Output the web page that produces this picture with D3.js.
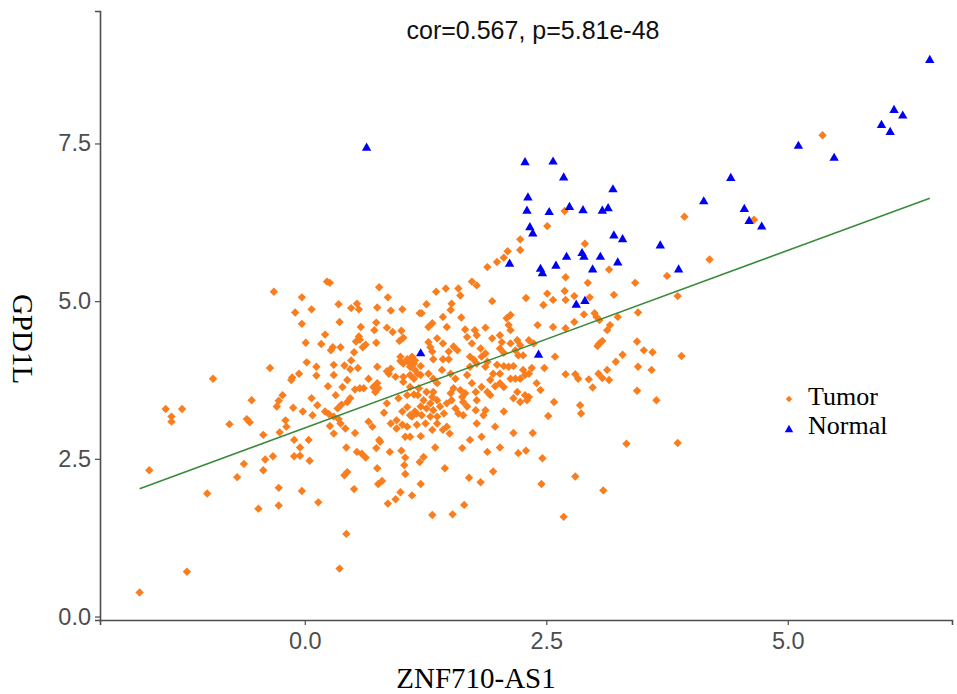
<!DOCTYPE html>
<html>
<head>
<meta charset="utf-8">
<script src="https://cdn.jsdelivr.net/npm/d3@7"></script>
<style>
  body { margin: 0; background: #fff; }
  .tick text { font-family: "Liberation Sans", Arial, sans-serif; font-size: 23.5px; fill: #4d4d4d; }
  .axis-title { font-family: "Liberation Serif", "Times New Roman", serif; font-size: 29px; fill: #000; }
  .legend-label { font-family: "Liberation Serif", "Times New Roman", serif; font-size: 26px; fill: #000; }
  .plot-title { font-family: "Liberation Sans", Arial, sans-serif; font-size: 25px; fill: #111; }
</style>
</head>
<body>
<div id="chart"></div>
<script>
// expression values: [ZNF710-AS1, GPD1L]
const normal = [
  [6.47,8.83],[6.10,8.04],[6.19,7.95],[5.97,7.80],[6.06,7.69],[5.11,7.47],[5.48,7.28],[4.41,6.96],
  [4.13,6.59],[4.55,6.47],[4.60,6.28],[4.73,6.19],[2.28,7.21],[2.57,7.22],[2.68,6.97],[3.19,6.78],
  [2.31,6.65],[2.30,6.44],[2.53,6.42],[2.74,6.50],[2.88,6.45],[3.08,6.44],[3.14,6.48],[2.33,6.18],
  [2.36,6.08],[3.20,6.05],[3.29,5.99],[3.68,5.89],[2.12,5.60],[2.71,5.71],[2.87,5.77],[2.89,5.71],
  [3.06,5.71],[3.24,5.62],[2.60,5.57],[2.44,5.52],[2.98,5.51],[3.87,5.51],[2.46,5.45],[2.81,4.95],
  [2.90,5.01],[1.20,4.18],[2.42,4.16],[0.64,7.44]
];

const tumor = [
  [5.36,7.63],[4.65,6.29],[4.19,5.66],[2.69,6.43],[2.51,6.19],[2.23,5.98],[2.23,5.81],[2.10,5.79],
  [2.06,5.69],[1.99,5.62],[1.89,5.54],[2.90,5.91],[3.93,6.34],[3.15,5.50],
  [-1.61,2.32],[-1.01,1.95],[-0.70,2.21],[-0.63,2.42],[-0.43,2.32],[-0.41,2.49],[-0.33,2.54],[-0.48,1.71],
  [-0.27,2.04],[-0.27,1.76],[-0.11,2.80],[-0.05,2.68],[-0.11,2.54],[-0.05,2.55],[0.05,2.47],[-0.03,1.99],
  [0.14,1.81],[0.43,2.68],[0.54,2.61],[0.59,2.58],[0.63,2.52],[0.74,2.67],[0.78,2.77],[0.41,2.24],
  [0.44,2.29],[0.51,2.02],[0.75,2.35],[0.76,2.10],[0.80,2.15],[0.86,1.79],[0.94,1.86],[0.99,1.97],
  [1.11,1.92],[1.00,2.63],[1.04,2.52],[1.03,2.40],[1.04,2.26],[1.19,2.45],[0.43,1.31],[0.36,0.76],
  [-1.22,0.71],[-1.71,0.38],
  [-0.32,5.15],[-0.03,5.06],[-0.10,4.82],[0.07,4.87],[-0.03,4.64],[0.01,4.34],[0.17,4.32],[0.21,4.47],
  [0.23,5.31],[0.26,5.29],[0.35,4.95],[0.36,4.67],[0.29,4.27],[0.27,4.22],[0.37,4.27],[0.30,3.99],
  [0.30,3.83],[0.41,3.98],[0.47,3.92],[0.55,3.94],[0.48,4.06],[0.51,4.19],[0.57,4.39],[0.53,4.36],
  [0.56,4.44],[0.60,4.27],[0.63,4.31],[0.58,4.59],[0.48,4.89],[0.54,4.96],[0.56,4.87],[0.77,5.22],
  [0.86,5.06],[0.75,4.90],[0.89,4.85],[1.01,4.87],[0.74,4.66],[0.72,4.54],[0.85,4.58],[0.91,4.51],
  [1.00,4.53],[0.98,4.37],[1.02,4.42],[0.74,4.34],[0.75,3.96],[0.85,3.89],[0.89,3.93],[0.99,4.05],
  [1.02,4.01],[1.07,4.04],[1.13,4.01],[1.09,3.96],[1.17,3.85],[0.66,3.77],[0.75,3.70],[0.71,3.64],
  [0.76,3.62],[0.73,3.56],[0.61,3.62],[0.52,3.60],[0.57,3.62],[0.44,3.75],[0.39,3.64],[0.47,3.46],
  [0.44,3.40],[0.38,3.36],[0.34,3.30],[0.32,3.51],[0.24,3.65],[0.12,3.96],[0.12,3.82],[0.02,4.03],
  [-0.06,3.85],[-0.14,3.75],[-0.13,3.79],[-0.36,3.94],[-0.23,3.51],[-0.27,3.42],[-0.29,3.33],[-0.12,3.31],
  [0.07,3.46],[0.13,3.35],[-0.02,3.25],[0.08,3.19],[0.21,3.25],[0.25,3.21],[0.30,3.17],[0.35,3.13],
  [0.26,3.02],[0.37,3.06],[0.42,2.98],[0.30,2.90],[-0.20,3.11],[-0.19,3.01],[-0.26,2.92],[-0.43,2.88],
  [-0.55,3.43],[-0.60,3.13],[-0.57,3.08],[-0.78,3.05],[-0.95,3.77],[-1.44,3.29],[-1.27,3.29],[-1.38,3.17],
  [-1.38,3.09],[0.04,2.80],[0.52,2.91],[0.66,3.09],[0.70,3.01],[0.77,2.80],[0.82,3.23],[0.85,3.38],
  [0.97,3.46],[1.06,3.32],[1.01,3.25],[1.11,3.17],[1.16,3.22],[0.95,3.11],[0.89,3.06],[0.95,2.98],
  [1.04,2.85],[0.88,2.61],[1.06,3.51],[1.13,3.52],[1.17,3.51],[1.02,3.80],[1.09,3.83],[1.11,4.12],
  [1.06,4.08],[1.14,4.06],[0.99,4.12],[0.87,3.85],[0.94,3.80],[1.19,4.81],
  [1.73,5.31],[1.78,5.25],[1.36,5.15],[1.46,5.20],[1.59,5.20],[1.61,5.09],[1.52,4.96],[1.51,4.86],
  [1.26,4.95],[1.21,4.81],[1.32,4.65],[1.28,4.59],[1.43,4.75],[1.62,4.74],[1.47,4.59],[1.94,5.00],
  [2.29,5.05],[2.51,5.12],[2.57,5.02],[2.69,5.16],[2.70,5.02],[2.79,5.08],[2.95,5.06],[2.70,5.38],
  [2.93,5.29],[3.20,5.10],[3.42,5.29],[3.75,5.40],[3.86,5.08],[2.47,4.94],[2.41,4.62],[2.57,4.59],
  [2.70,4.57],[2.79,4.67],[2.89,4.79],[3.00,4.81],[3.02,4.75],[3.05,4.70],[3.16,4.62],[3.13,4.54],
  [3.24,4.75],[3.45,4.82],[3.05,4.33],[3.03,4.29],[3.08,4.37],[3.44,4.36],[3.51,4.22],[3.60,4.19],
  [3.29,4.15],[3.22,4.04],[3.45,3.96],[3.59,3.91],[3.90,4.13],[3.13,3.91],[3.04,3.85],[3.08,3.78],
  [3.15,3.75],[2.94,3.76],[2.98,3.63],[2.80,3.84],[2.83,3.77],[2.70,3.84],[2.59,4.12],[2.48,3.94],
  [3.44,3.58],[3.64,3.43],[2.85,3.35],[2.86,3.22],[2.52,3.18],[2.58,3.40],[3.33,2.74],[3.86,2.75],
  [2.36,2.91],[2.46,2.51],[2.21,2.59],[2.29,2.63],[2.16,2.91],[1.97,3.01],[1.89,2.61],[2.02,2.68],
  [1.78,3.06],[1.63,2.67],[1.71,2.80],[1.35,2.68],[1.23,2.53],[1.43,2.96],[1.50,2.90],[1.20,2.86],
  [1.76,4.54],[1.78,4.46],[1.87,4.58],[1.66,4.55],[1.68,4.43],[1.94,4.41],[2.02,4.46],[2.04,4.35],
  [2.09,4.73],[2.11,4.62],[2.13,4.54],[2.13,4.78],[2.20,4.38],[2.23,4.30],[2.32,4.38],[2.37,4.33],
  [2.13,4.33],[2.02,4.25],[2.06,4.18],[2.18,4.22],[2.21,4.14],[2.26,4.14],[1.82,4.25],[1.87,4.17],
  [1.73,4.33],[1.54,4.28],[1.58,4.22],[1.49,4.20],[1.43,4.33],[1.37,4.41],[1.28,4.35],[1.30,4.27],
  [1.32,4.20],[1.33,4.08],[1.43,4.08],[1.49,4.08],[1.71,4.12],[1.75,4.07],[1.78,4.01],[1.71,3.96],
  [1.83,4.12],[1.89,4.04],[1.87,3.96],[1.99,3.99],[2.06,3.97],[2.11,3.96],[2.16,3.97],[2.02,3.85],
  [1.95,3.85],[1.92,3.75],[1.97,3.65],[2.02,3.70],[2.06,3.64],[2.13,3.77],[2.18,3.77],[2.23,3.77],
  [2.28,3.83],[2.32,3.85],[2.26,3.91],[2.35,3.94],[2.40,3.70],[2.44,3.59],[2.20,3.56],[2.28,3.51],
  [2.32,3.48],[2.30,3.43],[2.23,3.40],[2.16,3.46],[2.06,3.25],[1.87,3.27],[1.85,3.19],[1.83,3.64],
  [1.89,3.56],[1.92,3.51],[1.73,3.70],[1.77,3.56],[1.66,3.54],[1.61,3.59],[1.63,3.48],[1.64,3.40],
  [1.56,3.30],[1.59,3.22],[1.51,3.54],[1.52,3.43],[1.47,3.38],[1.54,3.62],[1.68,3.83],[1.56,3.77],
  [1.51,3.85],[1.42,3.91],[1.33,3.77],[1.37,3.70],[1.28,3.85],[1.20,3.97],[1.14,3.91],[1.20,3.83],
  [1.13,3.77],[1.02,3.72],[1.09,3.64],[1.18,3.62],[1.26,3.56],[1.33,3.56],[1.32,3.48],[1.37,3.43],
  [1.30,3.38],[1.23,3.43],[1.40,3.33],[1.33,3.27],[1.26,3.30],[1.20,3.33],[1.44,3.22],[1.37,3.17],
  [1.30,3.17],[1.21,3.19],[1.14,3.25],[1.09,3.19],[1.47,3.01],[1.37,3.06],[1.25,3.06],[1.16,3.04],
  [1.32,2.96],[1.09,2.85],[1.06,3.01],[1.01,3.04],[1.64,3.19],[1.83,2.85],[1.77,3.27],[1.68,3.33],
  [1.78,3.43],
  [1.32,1.61],[1.53,1.62],[1.65,1.77],[1.82,2.13],[1.70,2.20],[2.68,1.58],[2.80,2.22],[3.09,2.00],
  [1.95,2.30],[1.20,2.10],[1.45,2.35],[2.45,2.10]
];

// fitted line
const fitIntercept = 2.99;
const fitSlope = 0.563;

const xTicks = [0, 2.5, 5];
const yTicks = [0, 2.5, 5, 7.5];
const legendItems = ["Tumor", "Normal"];
const titleText = "cor=0.567, p=5.81e-48";

const width = 957, height = 694;
const colors = { Tumor: "#fa7d1e", Normal: "#0000f2" };

const svg = d3.select("#chart").append("svg")
  .attr("width", width)
  .attr("height", height);

const x = d3.scaleLinear().domain([-2.12, 6.70]).range([100, 952]);
const y = d3.scaleLinear().domain([-0.055, 9.6]).range([620, 11]);

const diamond = "M0,-4.2L4.2,0L0,4.2L-4.2,0Z";
const triangle = "M0,-4.7L4.7,3.5L-4.7,3.5Z";

// axes
const xAxis = svg.append("g")
  .attr("transform", `translate(0,${y.range()[0]})`)
  .call(d3.axisBottom(x).tickValues(xTicks).tickFormat(d3.format(".1f")).tickSizeOuter(0).tickSize(5).tickPadding(6));
const yAxis = svg.append("g")
  .attr("transform", `translate(${x.range()[0]},0)`)
  .call(d3.axisLeft(y).tickValues(yTicks).tickFormat(d3.format(".1f")).tickSizeOuter(0).tickSize(5).tickPadding(4));

[xAxis, yAxis].forEach(a => {
  a.select(".domain").attr("stroke", "#4d4d4d").attr("stroke-width", 1.6);
  a.selectAll(".tick line").attr("stroke", "#4d4d4d").attr("stroke-width", 1.2);
});
xAxis.selectAll(".tick text").attr("dy", "0.75em");

// points
svg.append("g").selectAll("path")
  .data(tumor)
  .join("path")
  .attr("d", diamond)
  .attr("transform", d => `translate(${x(d[0])},${y(d[1])})`)
  .attr("fill", colors.Tumor);

svg.append("g").selectAll("path")
  .data(normal)
  .join("path")
  .attr("d", triangle)
  .attr("transform", d => `translate(${x(d[0])},${y(d[1])})`)
  .attr("fill", colors.Normal);

// regression line across the data range
const allX = tumor.concat(normal).map(d => d[0]);
const xr = d3.extent(allX);
svg.append("line")
  .attr("x1", x(xr[0])).attr("y1", y(fitIntercept + fitSlope * xr[0]))
  .attr("x2", x(xr[1])).attr("y2", y(fitIntercept + fitSlope * xr[1]))
  .attr("stroke", "#3a8a3a")
  .attr("stroke-width", 1.6);

// title
svg.append("text")
  .attr("class", "plot-title")
  .attr("x", 533).attr("y", 39)
  .attr("text-anchor", "middle")
  .text(titleText);

// axis titles
svg.append("text")
  .attr("class", "axis-title")
  .attr("x", 476).attr("y", 688)
  .attr("text-anchor", "middle")
  .text("ZNF710-AS1");

svg.append("text")
  .attr("class", "axis-title")
  .attr("transform", "translate(13,339) rotate(90)")
  .attr("text-anchor", "middle")
  .text("GPD1L");

// legend
const legend = svg.append("g").attr("transform", "translate(789,399)");
const li = legend.selectAll("g")
  .data(legendItems)
  .join("g")
  .attr("transform", (d, i) => `translate(0,${i * 30})`);
li.append("path")
  .attr("d", d => d === "Tumor" ? "M0,-3.2L3.2,0L0,3.2L-3.2,0Z" : "M0,-4.2L4.2,3.2L-4.2,3.2Z")
  .attr("fill", d => colors[d]);
li.append("text")
  .attr("class", "legend-label")
  .attr("x", 19)
  .attr("y", (d, i) => i === 0 ? 6 : 5)
  .text(d => d);
</script>
</body>
</html>
